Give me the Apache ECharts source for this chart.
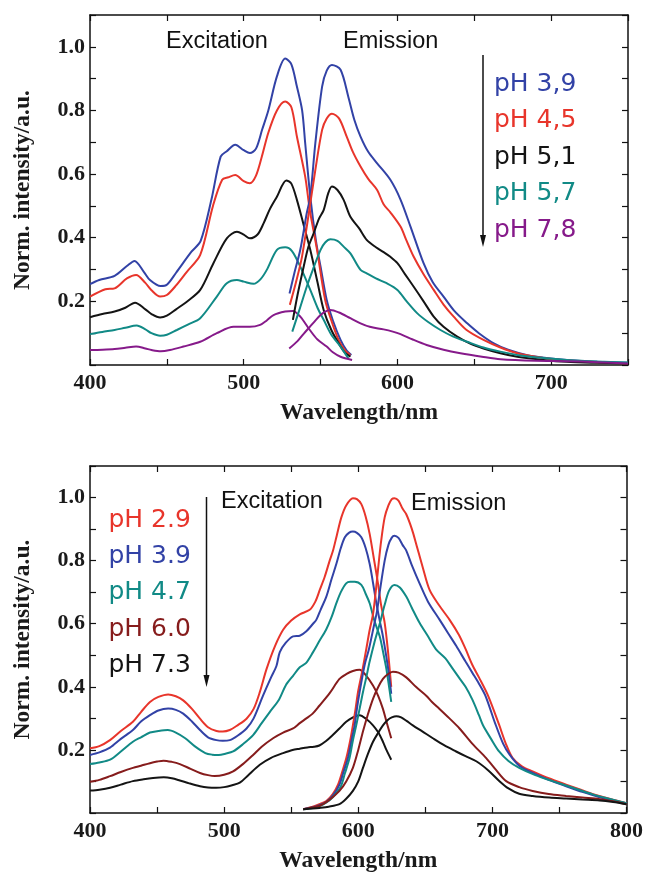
<!DOCTYPE html>
<html>
<head>
<meta charset="utf-8">
<script src="https://cdn.jsdelivr.net/npm/echarts@6/dist/echarts.min.js"></script>
<style>html,body{margin:0;padding:0;background:#fff;}#c{width:646px;height:874px;}</style>
</head>
<body>
<div id="c"></div>
<script>
// ---------- DATA (wavelength nm, normalized intensity) ----------
// Top panel
const topLabels = ['pH 3,9', 'pH 4,5', 'pH 5,1', 'pH 5,7', 'pH 7,8'];
const topExc39 = [[400,0.254],[406,0.267],[416,0.28],[424,0.311],[429,0.327],[435,0.293],[439,0.267],[446,0.248],[450,0.252],[456,0.29],[466,0.356],[472,0.39],[479,0.52],[485,0.655],[489,0.672],[494.5,0.692],[500,0.675],[504,0.666],[508,0.68],[512,0.74],[516,0.8],[521.6,0.907],[527,0.963],[531,0.945],[534.6,0.875],[538,0.8],[540,0.697],[543.3,0.529],[547,0.39],[550,0.309],[554,0.204],[558,0.14],[563,0.079],[567,0.045],[570,0.031]];
const topExc45 = [[400,0.215],[410,0.238],[416,0.241],[424,0.272],[430,0.283],[436,0.258],[440,0.235],[445.6,0.215],[450,0.22],[456,0.25],[463,0.293],[471.7,0.346],[480,0.5],[486,0.582],[490,0.59],[494.5,0.597],[500,0.578],[504,0.571],[508,0.595],[511.8,0.655],[516,0.73],[521.6,0.8],[527,0.828],[531,0.81],[534.6,0.718],[540,0.592],[543,0.487],[547.7,0.362],[553,0.204],[557,0.14],[561.7,0.079],[566,0.045],[569.4,0.031]];
const topExc51 = [[400,0.15],[408,0.16],[416,0.168],[423,0.18],[429.3,0.196],[436,0.175],[440,0.16],[445.6,0.149],[450,0.155],[456,0.175],[463,0.199],[471.7,0.236],[480.3,0.32],[489,0.398],[495.6,0.419],[500,0.41],[504,0.398],[509,0.41],[513,0.446],[517,0.49],[521.6,0.529],[527.7,0.58],[531,0.57],[534.6,0.519],[539,0.44],[543.3,0.362],[548,0.26],[552,0.173],[557,0.11],[563,0.058],[566,0.038],[569.4,0.026]];
const topExc57 = [[400,0.097],[408,0.104],[416,0.11],[423,0.117],[430.4,0.124],[436,0.112],[440,0.1],[445.6,0.092],[450,0.095],[456.5,0.11],[464,0.128],[471.7,0.147],[482.5,0.215],[489,0.257],[495.6,0.267],[500,0.262],[506.4,0.255],[511,0.27],[515,0.299],[521.6,0.362],[527,0.37],[531.4,0.358],[536.8,0.309],[543.3,0.236],[548,0.18],[552,0.142],[557,0.095],[563,0.058],[568,0.021]];
const topExc78 = [[400,0.047],[408,0.048],[416,0.05],[423,0.054],[430,0.058],[436,0.052],[440,0.047],[446,0.043],[452,0.047],[460.8,0.058],[471.7,0.073],[482.5,0.1],[493.4,0.12],[504,0.12],[510.7,0.126],[515,0.14],[519.4,0.157],[527,0.168],[532,0.17],[536.8,0.152],[543,0.11],[548,0.08],[554,0.058],[558,0.04],[563,0.026],[570.5,0.016]];
const topEm39 = [[529.8,0.225],[533,0.29],[536.8,0.362],[541,0.477],[543.3,0.529],[546.6,0.697],[551,0.875],[554,0.925],[557.4,0.943],[563,0.928],[568,0.844],[572,0.77],[576,0.718],[581,0.67],[586.8,0.634],[595.4,0.582],[602,0.52],[608.5,0.435],[617,0.32],[623,0.26],[630,0.215],[637,0.17],[645.4,0.131],[653,0.1],[662.7,0.068],[672,0.048],[684.5,0.031],[697,0.022],[710.5,0.016],[730,0.01],[750,0.007]];
const topEm45 = [[530,0.189],[534,0.26],[537.9,0.34],[542,0.466],[546.6,0.613],[551,0.739],[554,0.775],[557.4,0.79],[562,0.775],[567,0.718],[571,0.67],[576,0.624],[581,0.585],[586.8,0.55],[591,0.505],[595.4,0.48],[602,0.435],[606,0.39],[610.6,0.34],[617,0.285],[623.6,0.236],[630,0.19],[636.6,0.152],[645,0.11],[656,0.079],[667,0.055],[678,0.037],[695,0.022],[710,0.014],[730,0.009],[750,0.005]];
const topEm51 = [[532,0.142],[535,0.22],[539,0.309],[542,0.37],[545.5,0.414],[549,0.46],[552,0.487],[555,0.54],[557.4,0.561],[561,0.55],[565,0.519],[569.4,0.466],[575,0.43],[580,0.393],[586,0.37],[591,0.355],[595.4,0.34],[600,0.32],[605,0.285],[610.6,0.246],[617,0.2],[623.6,0.152],[630,0.12],[638.9,0.089],[647,0.068],[656,0.052],[667,0.037],[678,0.026],[695,0.016],[710,0.01],[730,0.007],[750,0.005]];
const topEm57 = [[531.6,0.105],[536,0.17],[541,0.246],[545,0.3],[550,0.362],[553,0.385],[556.4,0.395],[561,0.39],[565,0.372],[569.4,0.351],[576,0.299],[580,0.288],[586,0.272],[593,0.257],[600,0.236],[606,0.2],[612.8,0.163],[620,0.135],[628,0.11],[636,0.09],[645.4,0.073],[656,0.055],[667,0.042],[680,0.03],[695,0.022],[710,0.016],[730,0.011],[750,0.008]];
const topEm78 = [[529.6,0.052],[535,0.075],[539,0.098],[543,0.12],[547,0.142],[550,0.157],[553,0.168],[556.4,0.173],[562,0.165],[569.4,0.147],[576,0.131],[582,0.12],[591,0.112],[597,0.105],[602,0.097],[610,0.08],[619,0.063],[630,0.048],[641,0.037],[655,0.026],[667,0.018],[690,0.013],[710,0.012],[730,0.009],[750,0.005]];

// Bottom panel
const botLabels = ['pH 2.9', 'pH 3.9', 'pH 4.7', 'pH 6.0', 'pH 7.3'];
const botExc29 = [[400,0.205],[407,0.212],[414.9,0.231],[423,0.26],[432,0.289],[438,0.32],[444.7,0.352],[451,0.368],[458.3,0.376],[464,0.37],[469.5,0.357],[476,0.33],[482,0.299],[488,0.272],[494.3,0.26],[499,0.258],[504.2,0.263],[510,0.278],[516.7,0.299],[522,0.33],[526.6,0.383],[531.6,0.456],[538,0.53],[544,0.581],[550,0.61],[556.4,0.63],[563.8,0.644],[568,0.67],[571.3,0.707],[575,0.749],[578.7,0.8],[581.2,0.832],[584,0.88],[587.4,0.937],[591,0.975],[596,0.998],[599,0.995],[602.3,0.979],[605.5,0.94],[608.5,0.885],[611.5,0.81],[614.7,0.728],[617,0.66],[619.7,0.603],[622,0.52],[624.6,0.4]];
const botExc39 = [[400,0.184],[407,0.192],[414.9,0.207],[423,0.235],[432,0.263],[438,0.29],[444.7,0.31],[451,0.325],[458.3,0.331],[464,0.327],[469.5,0.315],[476,0.29],[482,0.263],[488,0.24],[494.3,0.231],[499,0.229],[504.2,0.231],[510,0.245],[516.7,0.268],[522,0.3],[529,0.372],[535,0.43],[539,0.466],[541.5,0.51],[546,0.54],[551.4,0.56],[556.4,0.562],[561.3,0.576],[566.3,0.6],[568.8,0.613],[572,0.645],[576.2,0.686],[580,0.74],[583.7,0.79],[587,0.84],[590,0.874],[593,0.888],[596,0.892],[599,0.888],[602.3,0.874],[605.5,0.84],[608.5,0.79],[611,0.73],[613.5,0.665],[616,0.61],[618.4,0.56],[622,0.466],[624.6,0.378]];
const botExc47 = [[400,0.155],[407,0.16],[415,0.169],[423,0.195],[432,0.226],[438,0.24],[444.7,0.255],[451,0.26],[458,0.263],[464,0.255],[471,0.237],[478,0.212],[486,0.19],[491,0.185],[496,0.184],[501,0.188],[506.7,0.195],[514,0.218],[521.6,0.247],[528,0.285],[534,0.32],[541,0.36],[546,0.405],[551.4,0.435],[556.4,0.462],[561,0.475],[566.3,0.51],[571,0.545],[576,0.581],[580,0.62],[583.7,0.665],[587,0.7],[591,0.728],[594,0.733],[597.3,0.733],[602.3,0.723],[605.5,0.695],[608.5,0.665],[612,0.61],[616,0.56],[619,0.5],[621,0.456],[624.6,0.352]];
const botExc60 = [[400,0.099],[407,0.105],[415,0.117],[423,0.13],[432,0.143],[438,0.15],[444.7,0.158],[450,0.163],[454.8,0.166],[461,0.162],[467,0.155],[475,0.14],[482,0.127],[488,0.12],[493,0.117],[500,0.121],[506.7,0.132],[514,0.155],[521.6,0.184],[528,0.21],[536.5,0.237],[544,0.255],[551.4,0.268],[556.4,0.285],[561,0.299],[566,0.315],[571,0.34],[578.7,0.38],[586,0.425],[591,0.44],[596,0.45],[601,0.454],[605,0.44],[611,0.404],[615,0.37],[618.4,0.33],[621,0.29],[624.6,0.237]];
const botExc73 = [[400,0.071],[407,0.074],[415,0.08],[423,0.09],[432,0.101],[440,0.107],[447,0.111],[455,0.113],[461,0.11],[467,0.103],[474,0.094],[482,0.085],[488,0.081],[494,0.08],[500,0.082],[506,0.088],[511.7,0.096],[518,0.12],[526.6,0.153],[535,0.175],[544,0.19],[551,0.2],[556.4,0.204],[562,0.208],[567,0.21],[571,0.214],[576,0.228],[581,0.247],[586,0.268],[591,0.289],[596,0.303],[601,0.31],[606,0.298],[611,0.278],[615,0.255],[618.4,0.226],[621,0.2],[624.6,0.169]];
const botEm29 = [[559,0.012],[566,0.02],[571,0.028],[576.2,0.038],[581,0.06],[584.9,0.09],[588,0.13],[591.1,0.174],[594,0.23],[596,0.278],[598,0.33],[599.8,0.383],[603,0.45],[606,0.52],[608.5,0.58],[611,0.63],[613,0.7],[614.7,0.77],[617,0.86],[619.7,0.937],[622.5,0.975],[625,0.995],[627,0.998],[630,0.99],[633,0.965],[635.8,0.947],[640,0.9],[643.2,0.853],[648,0.78],[653.2,0.707],[660,0.66],[668,0.613],[675,0.565],[680,0.52],[685,0.47],[690,0.43],[697,0.37],[705,0.28],[710,0.22],[715,0.175],[722,0.148],[730,0.132],[742,0.11],[755,0.09],[767,0.072],[779.7,0.054],[790,0.042],[800,0.031]];
const botEm39 = [[559,0.012],[566,0.018],[571,0.025],[576,0.035],[581,0.055],[586,0.09],[589,0.13],[592.3,0.174],[595,0.23],[597.3,0.278],[599,0.33],[601,0.383],[604.8,0.47],[608,0.52],[612,0.6],[614,0.64],[616,0.7],[619.7,0.8],[622.5,0.85],[625,0.873],[627,0.879],[630,0.872],[633,0.85],[635.8,0.832],[640,0.785],[645.7,0.728],[652,0.67],[660.6,0.613],[667,0.57],[673,0.53],[680,0.48],[685,0.445],[690,0.41],[695,0.37],[702,0.285],[708,0.22],[713,0.184],[720,0.15],[730,0.127],[742,0.105],[755,0.085],[767,0.067],[780,0.05],[790,0.04],[800,0.031]];
const botEm47 = [[559,0.012],[566,0.016],[571,0.022],[576,0.033],[581,0.05],[587,0.084],[590,0.125],[593.5,0.174],[596,0.23],[598.5,0.278],[601,0.33],[603.5,0.383],[606,0.43],[608.5,0.48],[612,0.54],[616,0.6],[619.7,0.66],[623,0.705],[627,0.723],[631,0.715],[635.8,0.686],[640,0.65],[645.7,0.603],[652,0.56],[658,0.519],[665,0.49],[670,0.46],[675,0.43],[680,0.4],[685,0.36],[690,0.31],[693,0.278],[699,0.235],[705,0.195],[712,0.165],[720,0.143],[732,0.12],[745,0.101],[760,0.08],[774.8,0.059],[787,0.045],[800,0.031]];
const botEm60 = [[559,0.012],[566,0.018],[571.3,0.023],[578,0.04],[586,0.07],[591,0.1],[596,0.143],[600,0.2],[603.5,0.258],[607,0.31],[611,0.362],[615,0.4],[618.4,0.425],[622,0.44],[625.8,0.448],[630,0.445],[635.8,0.43],[643,0.4],[650.7,0.372],[655,0.352],[660.6,0.33],[668,0.3],[675.5,0.268],[685,0.22],[695.4,0.174],[703,0.135],[710.3,0.101],[720,0.082],[730,0.07],[742,0.06],[755,0.054],[767,0.049],[780,0.044],[790,0.037],[800,0.028]];
const botEm73 = [[559,0.012],[566,0.014],[571,0.016],[578,0.02],[586,0.028],[591,0.045],[596,0.07],[600,0.1],[603.5,0.143],[607,0.185],[611,0.226],[615,0.255],[618.4,0.278],[622,0.295],[625,0.303],[628.4,0.307],[632,0.303],[636,0.292],[640.7,0.278],[648,0.258],[655.6,0.237],[664,0.215],[673,0.195],[680,0.18],[688,0.164],[697,0.135],[705.3,0.101],[712,0.078],[720,0.061],[730,0.054],[742.5,0.049],[755,0.046],[767,0.043],[780,0.04],[790,0.035],[800,0.028]];

// axis ranges / tick labels
const topXRange = [400, 750];
const botXRange = [400, 800];
const yRange = [0, 1.1];
const xTickLabels = [400, 500, 600, 700, 800];
const yTickLabels = ['0.2', '0.4', '0.6', '0.8', '1.0'];

// ---------- STYLE ----------
const C = {
  blue: '#3242a6', red: '#e8352b', black: '#141414', teal: '#118a86',
  purple: '#861a8a', darkred: '#861c1c'
};
const topColors = [C.blue, C.red, C.black, C.teal, C.purple];
const botColors = [C.red, C.blue, C.teal, C.darkred, C.black];

const axisFont = { fontFamily: 'Liberation Serif', fontWeight: 'bold', fontSize: 22, color: '#1a1a1a' };
const lineAxis = { show: true, onZero: false, lineStyle: { color: '#111', width: 1.5 } };
const tickIn = { show: true, inside: true, length: 6, lineStyle: { color: '#111', width: 1.2 } };

function xAxes(gridIndex, range) {
  return [
    {
      type: 'value', gridIndex, position: 'bottom', min: range[0], max: range[1], interval: 50,
      axisLine: lineAxis, axisTick: tickIn, splitLine: { show: false },
      axisLabel: Object.assign({ margin: 7, formatter: v => xTickLabels.includes(v) ? String(v) : '' }, axisFont),
      name: 'Wavelength/nm', nameLocation: 'middle', nameGap: 36,
      nameTextStyle: { fontFamily: 'Liberation Serif', fontWeight: 'bold', fontSize: 23.5, color: '#1a1a1a' }
    },
    {
      type: 'value', gridIndex, position: 'top', min: range[0], max: range[1], interval: 50,
      axisLine: lineAxis, axisTick: tickIn, axisLabel: { show: false }, splitLine: { show: false }
    }
  ];
}
function yAxes(gridIndex) {
  return [
    {
      type: 'value', gridIndex, position: 'left', min: yRange[0], max: yRange[1], interval: 0.1,
      axisLine: lineAxis, axisTick: tickIn, splitLine: { show: false },
      axisLabel: Object.assign({ margin: 5, formatter: v => { const s = v.toFixed(1); return yTickLabels.includes(s) ? s : ''; } }, axisFont),
      name: 'Norm. intensity/a.u.', nameLocation: 'middle', nameGap: 55, nameRotate: 90,
      nameTextStyle: { fontFamily: 'Liberation Serif', fontWeight: 'bold', fontSize: 23.5, color: '#1a1a1a' }
    },
    {
      type: 'value', gridIndex, position: 'right', min: yRange[0], max: yRange[1], interval: 0.1,
      axisLine: lineAxis, axisTick: tickIn, axisLabel: { show: false }, splitLine: { show: false }
    }
  ];
}
function line(data, color, xi, yi) {
  return {
    type: 'line', data, xAxisIndex: xi, yAxisIndex: yi, showSymbol: false, symbol: 'none',
    smooth: 0.3, lineStyle: { color, width: 2 }, itemStyle: { color }, silent: true, clip: true
  };
}

const topSeries = [topExc39, topExc45, topExc51, topExc57, topExc78].map((d, i) => line(d, topColors[i], 0, 0))
  .concat([topEm39, topEm45, topEm51, topEm57, topEm78].map((d, i) => line(d, topColors[i], 0, 0)));
const botSeries = [botExc29, botExc39, botExc47, botExc60, botExc73].map((d, i) => line(d, botColors[i], 2, 2))
  .concat([botEm29, botEm39, botEm47, botEm60, botEm73].map((d, i) => line(d, botColors[i], 2, 2)));

const sansText = (text, x, y, size, color, family) => ({
  type: 'text', silent: true, z: 100,
  style: { text, x, y, fontSize: size, fontFamily: family || 'Liberation Sans', fill: color,
           align: 'left', verticalAlign: 'middle', textAlign: 'left', textVerticalAlign: 'middle' }
});

const graphics = [
  sansText('Excitation', 166, 41.5, 23.5, '#111'),
  sansText('Emission', 343, 41.5, 23.5, '#111'),
  sansText('Excitation', 221, 501.5, 23.5, '#111'),
  sansText('Emission', 411, 503.5, 23.5, '#111'),
  // arrows
  { type: 'line', silent: true, shape: { x1: 483, y1: 55, x2: 483, y2: 238 }, style: { stroke: '#111', lineWidth: 1.5 } },
  { type: 'polygon', silent: true, shape: { points: [[480, 235], [486, 235], [483, 247]] }, style: { fill: '#111' } },
  { type: 'line', silent: true, shape: { x1: 206.5, y1: 497, x2: 206.5, y2: 678 }, style: { stroke: '#111', lineWidth: 1.5 } },
  { type: 'polygon', silent: true, shape: { points: [[203.5, 675], [209.5, 675], [206.5, 687]] }, style: { fill: '#111' } }
];
const topLegendY = [84, 120.5, 157, 193.5, 230];
topLabels.forEach((t, i) => graphics.push(sansText(t, 494, topLegendY[i], 25, topColors[i], 'DejaVu Sans')));
const botLegendY = [520, 556, 592.5, 629, 665];
botLabels.forEach((t, i) => graphics.push(sansText(t, 108.5, botLegendY[i], 25, botColors[i], 'DejaVu Sans')));

const chart = echarts.init(document.getElementById('c'), null, { renderer: 'canvas' });
chart.setOption({
  animation: false,
  backgroundColor: '#fff',
  grid: [
    { left: 90, top: 15, width: 538, height: 350 },
    { left: 90, top: 466, width: 538, height: 350 }
  ],
  xAxis: xAxes(0, topXRange).concat(xAxes(1, botXRange)),
  yAxis: yAxes(0).concat(yAxes(1)),
  series: topSeries.concat(botSeries),
  graphic: graphics
});
</script>
</body>
</html>
